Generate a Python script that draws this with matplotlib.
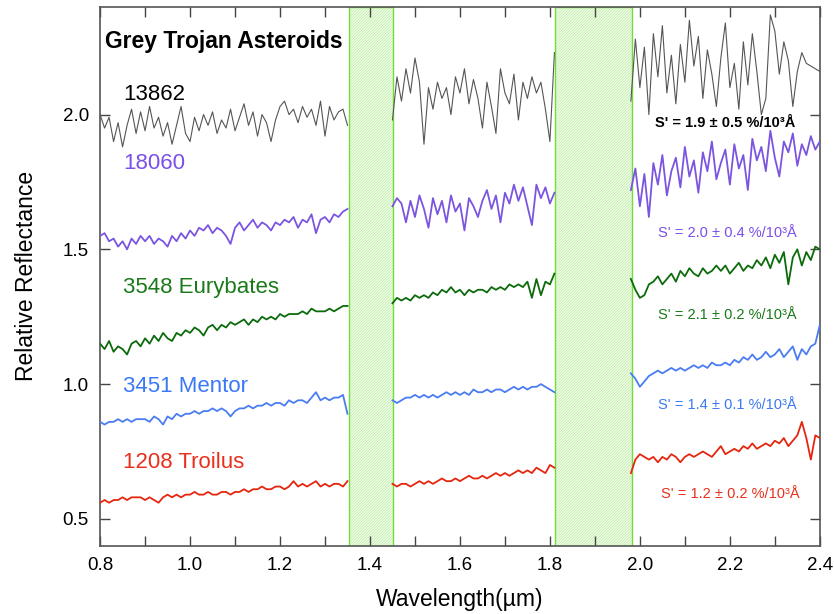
import numpy as np
import matplotlib
matplotlib.use("Agg")
import matplotlib.pyplot as plt

plt.rcParams['font.family'] = ['Liberation Sans', 'DejaVu Sans']
plt.rcParams['hatch.linewidth'] = 0.6

# Wavelength grids (µm) of the three observed segments
WL1 = np.round(np.arange(0.80, 1.355, 0.01), 2)   # 56 points
WL2 = np.round(np.arange(1.45, 1.815, 0.01), 2)   # 37 points
WL3 = np.round(np.arange(1.98, 2.405, 0.01), 2)   # 43 points

# Telluric gaps (shaded bands)
BANDS = [(1.353, 1.451), (1.811, 1.982)]

NAMES = ["13862", "18060", "3548 Eurybates", "3451 Mentor", "1208 Troilus"]
SLOPES = ["S' = 1.9 ± 0.5 %/10³Å", "S' = 2.0 ± 0.4 %/10³Å", "S' = 2.1 ± 0.2 %/10³Å",
          "S' = 1.4 ± 0.1 %/10³Å", "S' = 1.2 ± 0.2 %/10³Å"]

# ---- 13862 ----
A13862_1 = [2.00, 1.95, 1.99, 1.90, 1.97, 1.88, 1.96, 2.02, 1.93, 2.01,
            1.94, 2.03, 1.95, 1.99, 1.92, 1.97, 1.89, 1.96, 2.03, 1.93,
            1.90, 1.99, 1.94, 2.00, 1.96, 2.01, 1.93, 1.98, 1.95, 2.02,
            1.94, 1.99, 2.04, 1.96, 2.01, 1.92, 2.00, 1.97, 1.90, 1.98,
            2.03, 2.05, 2.00, 2.02, 1.97, 2.03, 1.99, 2.02, 1.96, 2.05,
            1.92, 2.03, 1.98, 2.01, 2.02, 1.96]
A13862_2 = [1.98, 2.14, 2.05, 2.17, 2.08, 2.21, 2.12, 1.89, 2.10, 2.02,
            2.12, 2.06, 2.10, 2.00, 2.14, 2.08, 2.17, 2.04, 2.13, 2.06,
            1.95, 2.12, 2.03, 1.93, 2.17, 2.08, 2.04, 2.15, 1.98, 2.12,
            2.06, 2.14, 2.08, 2.12, 2.02, 1.90, 2.23]
A13862_3 = [2.05, 2.28, 2.10, 2.25, 2.00, 2.30, 2.14, 2.33, 2.08, 2.22,
            2.04, 2.26, 2.12, 2.35, 2.18, 2.29, 2.06, 2.24, 2.15, 2.03,
            2.21, 2.34, 2.10, 2.19, 2.02, 2.27, 2.11, 2.30, 2.16, 2.00,
            2.06, 2.37, 2.31, 2.15, 2.27, 2.20, 2.03, 2.16, 2.23, 2.19,
            2.18, 2.17, 2.16]

# ---- 18060 ----
A18060_1 = [1.55, 1.56, 1.53, 1.54, 1.51, 1.53, 1.50, 1.54, 1.52, 1.55,
            1.53, 1.55, 1.52, 1.54, 1.53, 1.51, 1.55, 1.53, 1.56, 1.54,
            1.57, 1.55, 1.58, 1.57, 1.59, 1.56, 1.58, 1.57, 1.55, 1.52,
            1.58, 1.60, 1.57, 1.59, 1.61, 1.58, 1.60, 1.59, 1.57, 1.60,
            1.59, 1.61, 1.60, 1.62, 1.58, 1.61, 1.60, 1.63, 1.56, 1.61,
            1.62, 1.60, 1.63, 1.62, 1.64, 1.65]
A18060_2 = [1.66, 1.69, 1.67, 1.60, 1.68, 1.62, 1.70, 1.65, 1.58, 1.69,
            1.63, 1.68, 1.60, 1.70, 1.64, 1.67, 1.57, 1.69, 1.66, 1.62,
            1.68, 1.72, 1.65, 1.70, 1.60, 1.71, 1.67, 1.74, 1.68, 1.73,
            1.66, 1.59, 1.74, 1.69, 1.73, 1.67, 1.71]
A18060_3 = [1.72, 1.80, 1.66, 1.78, 1.62, 1.82, 1.74, 1.85, 1.70, 1.79,
            1.84, 1.73, 1.88, 1.77, 1.83, 1.71, 1.86, 1.79, 1.90, 1.76,
            1.82, 1.87, 1.74, 1.89, 1.80, 1.85, 1.72, 1.91, 1.83, 1.88,
            1.79, 1.94, 1.84, 1.77, 1.90, 1.86, 1.93, 1.81, 1.89, 1.85,
            1.92, 1.87, 1.90]

# ---- 3548 Eurybates ----
A3548_1 = [1.15, 1.13, 1.16, 1.12, 1.14, 1.13, 1.11, 1.15, 1.16, 1.14,
           1.17, 1.15, 1.18, 1.16, 1.19, 1.17, 1.16, 1.19, 1.18, 1.20,
           1.19, 1.21, 1.20, 1.18, 1.21, 1.22, 1.20, 1.22, 1.21, 1.23,
           1.22, 1.23, 1.24, 1.22, 1.24, 1.23, 1.25, 1.24, 1.25, 1.24,
           1.26, 1.25, 1.26, 1.26, 1.26, 1.27, 1.26, 1.28, 1.27, 1.27,
           1.27, 1.28, 1.27, 1.28, 1.29, 1.29]
A3548_2 = [1.30, 1.32, 1.31, 1.32, 1.31, 1.33, 1.32, 1.33, 1.32, 1.34,
           1.33, 1.35, 1.34, 1.36, 1.34, 1.35, 1.33, 1.35, 1.34, 1.35,
           1.35, 1.34, 1.36, 1.35, 1.36, 1.35, 1.37, 1.36, 1.37, 1.36,
           1.38, 1.32, 1.39, 1.33, 1.38, 1.37, 1.41]
A3548_3 = [1.39, 1.35, 1.32, 1.33, 1.37, 1.38, 1.40, 1.37, 1.39, 1.41,
           1.38, 1.42, 1.40, 1.43, 1.41, 1.40, 1.43, 1.41, 1.42, 1.44,
           1.42, 1.44, 1.41, 1.43, 1.45, 1.42, 1.44, 1.43, 1.46, 1.44,
           1.47, 1.43, 1.48, 1.45, 1.49, 1.37, 1.47, 1.50, 1.44, 1.49,
           1.46, 1.51, 1.50]

# ---- 3451 Mentor ----
A3451_1 = [0.86, 0.85, 0.86, 0.86, 0.87, 0.86, 0.87, 0.86, 0.87, 0.87,
           0.87, 0.86, 0.88, 0.87, 0.85, 0.88, 0.87, 0.89, 0.88, 0.89,
           0.89, 0.90, 0.89, 0.90, 0.90, 0.91, 0.90, 0.91, 0.90, 0.88,
           0.90, 0.91, 0.91, 0.92, 0.91, 0.92, 0.92, 0.93, 0.92, 0.93,
           0.93, 0.92, 0.94, 0.93, 0.94, 0.94, 0.93, 0.95, 0.97, 0.94,
           0.95, 0.94, 0.95, 0.95, 0.96, 0.89]
A3451_2 = [0.94, 0.93, 0.94, 0.95, 0.95, 0.96, 0.95, 0.96, 0.95, 0.96,
           0.95, 0.96, 0.97, 0.96, 0.97, 0.96, 0.97, 0.96, 0.98, 0.97,
           0.97, 0.98, 0.97, 0.98, 0.98, 0.97, 0.98, 0.99, 0.98, 0.99,
           0.98, 0.99, 0.99, 1.00, 0.99, 0.98, 0.97]
A3451_3 = [1.04, 1.02, 0.99, 1.01, 1.03, 1.04, 1.05, 1.04, 1.05, 1.06,
           1.05, 1.06, 1.05, 1.06, 1.07, 1.06, 1.07, 1.06, 1.08, 1.07,
           1.07, 1.08, 1.07, 1.09, 1.08, 1.10, 1.09, 1.11, 1.09, 1.10,
           1.12, 1.10, 1.11, 1.13, 1.10, 1.12, 1.14, 1.09, 1.13, 1.11,
           1.14, 1.15, 1.22]

# ---- 1208 Troilus ----
A1208_1 = [0.56, 0.57, 0.56, 0.57, 0.57, 0.58, 0.57, 0.58, 0.58, 0.58,
           0.57, 0.58, 0.57, 0.56, 0.58, 0.59, 0.58, 0.59, 0.58, 0.59,
           0.59, 0.60, 0.59, 0.59, 0.60, 0.59, 0.59, 0.60, 0.60, 0.59,
           0.60, 0.60, 0.61, 0.60, 0.61, 0.61, 0.62, 0.61, 0.61, 0.62,
           0.62, 0.61, 0.62, 0.64, 0.62, 0.63, 0.62, 0.63, 0.64, 0.62,
           0.63, 0.62, 0.63, 0.63, 0.62, 0.64]
A1208_2 = [0.63, 0.62, 0.63, 0.63, 0.62, 0.63, 0.64, 0.63, 0.64, 0.63,
           0.64, 0.65, 0.64, 0.64, 0.65, 0.64, 0.65, 0.66, 0.65, 0.65,
           0.66, 0.65, 0.66, 0.67, 0.66, 0.67, 0.66, 0.67, 0.68, 0.67,
           0.68, 0.67, 0.69, 0.68, 0.67, 0.70, 0.69]
A1208_3 = [0.67, 0.72, 0.74, 0.73, 0.72, 0.73, 0.71, 0.73, 0.72, 0.74,
           0.73, 0.71, 0.73, 0.74, 0.73, 0.74, 0.75, 0.74, 0.73, 0.75,
           0.77, 0.74, 0.75, 0.76, 0.75, 0.77, 0.76, 0.78, 0.76, 0.77,
           0.78, 0.77, 0.79, 0.78, 0.80, 0.77, 0.79, 0.81, 0.86, 0.80,
           0.72, 0.81, 0.80]

SERIES = [
    (A13862_1, A13862_2, A13862_3),
    (A18060_1, A18060_2, A18060_3),
    (A3548_1, A3548_2, A3548_3),
    (A3451_1, A3451_2, A3451_3),
    (A1208_1, A1208_2, A1208_3),
]
LINE_COLORS = ["#555555", "#7b55e0", "#0b6b0b", "#4a7cf2", "#e5260f"]
TEXT_COLORS = ["#000000", "#7b4fe8", "#1a7a1a", "#3a78f6", "#e8301c"]
LINE_WIDTHS = [0.8, 1.3, 1.3, 1.3, 1.3]
NAME_POS = [(0.852, 2.075), (0.852, 1.82), (0.852, 1.36), (0.852, 0.99), (0.852, 0.71)]
SLOPE_POS = [(2.19, 1.967), (2.195, 1.56), (2.195, 1.255), (2.195, 0.922), (2.20, 0.593)]

fig = plt.figure(figsize=(8.34, 6.14), dpi=100)
ax = fig.add_axes([0.12, 0.111, 0.863, 0.878])

for x0, x1 in BANDS:
    ax.axvspan(x0, x1, facecolor="#f5fdf0", edgecolor="#c0eea8", hatch="/" * 12,
               linewidth=0, zorder=1)
    ax.axvspan(x0, x1, facecolor="none", edgecolor="#72dd3c", linewidth=1.0, zorder=2)

for segs, c, lw in zip(SERIES, LINE_COLORS, LINE_WIDTHS):
    for wl, vals in zip((WL1, WL2, WL3), segs):
        ax.plot(wl, vals, color=c, lw=lw, zorder=3)

for name, pos, c in zip(NAMES, NAME_POS, TEXT_COLORS):
    ax.text(pos[0], pos[1], name, color=c, fontsize=16, ha="left", va="center")

for i, (s, pos, c) in enumerate(zip(SLOPES, SLOPE_POS, TEXT_COLORS)):
    ax.text(pos[0], pos[1], s, color=c, fontsize=10.5, ha="center", va="center",
            fontweight="bold" if i == 0 else "normal")

ax.text(0.81, 2.27, "Grey Trojan Asteroids", fontsize=16.5, fontweight="bold",
        ha="left", va="center")

ax.set_xlim(0.8, 2.4)
ax.set_ylim(0.4, 2.4)
ax.set_xticks(np.round(np.arange(0.8, 2.41, 0.2), 1))
ax.set_xticks(np.round(np.arange(0.9, 2.4, 0.2), 1), minor=True)
ax.set_yticks([0.5, 1.0, 1.5, 2.0])
ax.tick_params(axis="both", which="both", direction="in", top=True, right=True,
               length=7, width=1, color="#444444", labelsize=13.5, pad=8)
for sp in ax.spines.values():
    sp.set_color("#555555")
    sp.set_linewidth(1.2)

ax.set_xlabel("Wavelength(µm)", fontsize=16.5, labelpad=10)
ax.set_ylabel("Relative Reflectance", fontsize=16.5, labelpad=18)

fig.savefig("out.png", dpi=100)
